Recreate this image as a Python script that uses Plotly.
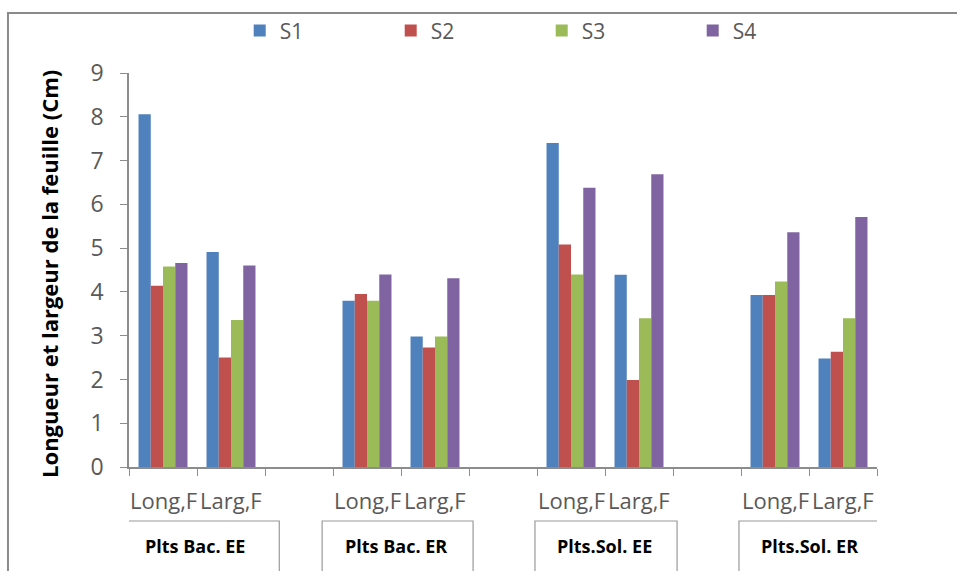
import plotly.graph_objects as go

groups = ["Plts Bac. EE", "Plts Bac. ER", "Plts.Sol. EE", "Plts.Sol. ER"]
subcats = ["Long,F", "Larg,F"]
series_names = ["S1", "S2", "S3", "S4"]
colors = ["#4F81BD", "#C0504D", "#9BBB59", "#8064A2"]

# values per series, ordered group by group: (Long,F, Larg,F)
S1 = [8.06, 4.91, 3.80, 2.98, 7.40, 4.39, 3.93, 2.48]
S2 = [4.14, 2.50, 3.95, 2.73, 5.08, 1.99, 3.93, 2.63]
S3 = [4.58, 3.36, 3.80, 2.98, 4.40, 3.40, 4.24, 3.40]
S4 = [4.66, 4.60, 4.40, 4.31, 6.38, 6.69, 5.36, 5.71]
series_values = [S1, S2, S3, S4]

# category slots: each group uses 2 slots followed by an empty slot
slots_per_group = len(subcats) + 1
n_slots = len(groups) * slots_per_group - 1
xpos = [g * slots_per_group + j for g in range(len(groups)) for j in range(len(subcats))]
xlabels = [subcats[j] for g in range(len(groups)) for j in range(len(subcats))]

FONT = "Open Sans"
GRAY_TXT = "#595959"
AX = "#8c8c8c"

fig = go.Figure()
for name, vals, col in zip(series_names, series_values, colors):
    fig.add_trace(go.Bar(x=xpos, y=vals, name=name, marker=dict(color=col, line=dict(width=0))))

fig.update_layout(
    width=957, height=571,
    margin=dict(l=129, r=80, t=73, b=104, autoexpand=False),
    plot_bgcolor="white", paper_bgcolor="white",
    barmode="group", bargap=0.28, bargroupgap=0,
    font=dict(family=FONT, color=GRAY_TXT),
    showlegend=True,
    legend=dict(orientation="h", x=0.148, xanchor="left", y=1.107, yanchor="middle",
                entrywidth=106, entrywidthmode="pixels", bgcolor="rgba(0,0,0,0)",
                font=dict(size=21, color=GRAY_TXT, family=FONT), traceorder="normal"),
)

fig.update_yaxes(range=[0, 9], tickvals=list(range(10)), showgrid=False, zeroline=False,
                 showline=True, linecolor=AX, linewidth=1.5, ticks="outside", ticklen=7,
                 tickcolor=AX, tickfont=dict(size=23, color=GRAY_TXT, family=FONT),
                 ticklabelstandoff=12)
fig.update_xaxes(range=[-0.5, n_slots - 0.5],
                 tickvals=[i - 0.5 for i in range(n_slots + 1)],
                 ticktext=["" for _ in range(n_slots + 1)],
                 showgrid=False, zeroline=False, showline=True, linecolor=AX, linewidth=1.5,
                 ticks="outside", ticklen=7, tickcolor=AX)

# category labels
for x, lab in zip(xpos, xlabels):
    fig.add_annotation(x=x, y=-0.084, xref="x", yref="paper", text=lab, showarrow=False,
                       font=dict(size=22, color=GRAY_TXT, family=FONT), yanchor="middle")

# group label boxes
box_edges = [(-0.59, 1.71), (2.34, 4.56), (5.47, 7.56), (8.47, 10.79)]
for (x0, x1), g in zip(box_edges, groups):
    fig.add_shape(type="rect", xref="x", yref="paper", x0=x0, x1=x1, y0=-0.30, y1=-0.137,
                  line=dict(color="#9a9a9a", width=1.2), fillcolor="white", layer="above")
    fig.add_annotation(x=x0 + 0.3, y=-0.2005, xref="x", yref="paper", text="<b>%s</b>" % g,
                       showarrow=False, xanchor="left", yanchor="middle",
                       font=dict(size=18, color="black", family=FONT))

# y-axis title
fig.add_annotation(x=-0.107, y=0.49, xref="paper", yref="paper",
                   text="<b>Longueur et largeur de la feuille (Cm)</b>", textangle=-90,
                   showarrow=False, xanchor="center", yanchor="middle",
                   font=dict(size=22, color="black", family=FONT))

# outer chart frame (extends past the picture edge on the right and bottom)
fig.add_shape(type="rect", xref="paper", yref="paper", x0=-0.1618, x1=1.2, y0=-0.5, y1=1.152,
              line=dict(color="#8a8a8a", width=2), fillcolor="rgba(0,0,0,0)", layer="below")

fig.write_html("out.html", config={"displayModeBar": False},
               post_script="document.body.style.margin='0';")
